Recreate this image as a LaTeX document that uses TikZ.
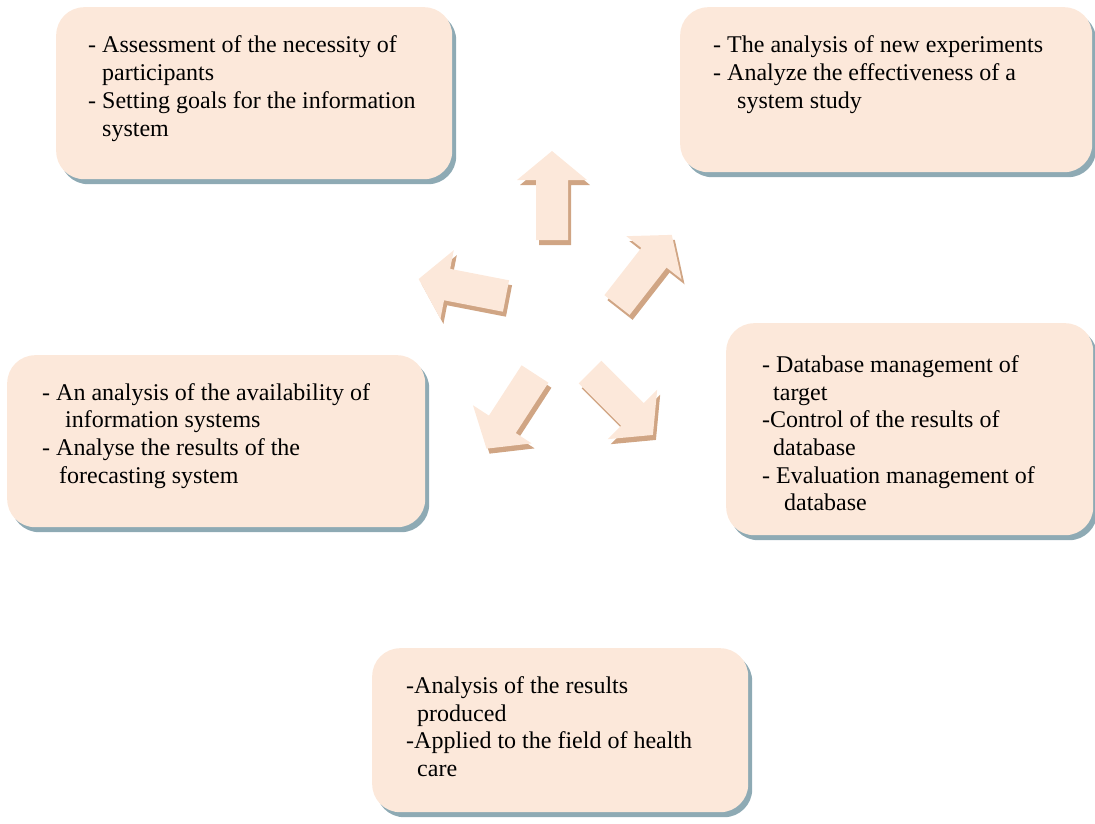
\documentclass[tikz,border=0pt]{standalone}
\usepackage{fontspec}
\setmainfont{Liberation Serif}
\usetikzlibrary{shadows}
\definecolor{peach}{HTML}{FCE8DA}
\definecolor{boxshadow}{HTML}{8EAAB4}
\definecolor{arrowshadow}{HTML}{D0A584}
\tikzset{
  box/.style={fill=peach, draw=none, rounded corners=28pt, anchor=north west, inner sep=0pt,
    drop shadow={shadow xshift=4pt, shadow yshift=-5pt, fill=boxshadow, opacity=1}},
  txt/.style={anchor=base west, inner sep=0pt, font=\fontsize{24}{28}\selectfont},
  arrowfill/.style={fill=peach},
  arrowshade/.style={fill=arrowshadow},
}
\newcommand{\blockarr}[3]{%
  \fill[arrowshade, shift={(#1+3,#2+5)}, rotate=#3]
    (0,-16) -- (60,-16) -- (60,-35) -- (89,0) -- (60,35) -- (60,16) -- (0,16) -- cycle;
  \fill[arrowfill, shift={(#1,#2)}, rotate=#3]
    (0,-16) -- (60,-16) -- (60,-35) -- (89,0) -- (60,35) -- (60,16) -- (0,16) -- cycle;
}
\begin{document}
\begin{tikzpicture}[x=1pt, y=-1pt]
\useasboundingbox (0,0) rectangle (1095,823);

% boxes
\node[box, minimum width=396pt, minimum height=172pt] (b1) at (56,7) {};
\node[box, minimum width=412pt, minimum height=165pt] (b2) at (680,7) {};
\node[box, minimum width=418pt, minimum height=172pt] (b3) at (7,355) {};
\node[box, minimum width=367pt, minimum height=212pt] (b4) at (726,323) {};
\node[box, minimum width=376pt, minimum height=164pt] (b5) at (372,648) {};

% texts box 1
\node[txt] (t11) at (88,52) {- Assessment of the necessity of};
\node[txt] (t12) at (102,80) {participants};
\node[txt] (t13) at (88,108) {- Setting goals for the information};
\node[txt] (t14) at (102,136) {system};

% texts box 2
\node[txt] (t21) at (713,52) {- The analysis of new experiments};
\node[txt] (t22) at (713,80) {- Analyze the effectiveness of a};
\node[txt] (t23) at (737,108) {system study};

% texts box 3
\node[txt] (t31) at (42,400) {- An analysis of the availability of};
\node[txt] (t32) at (65,427) {information systems};
\node[txt] (t33) at (42,455) {- Analyse the results of the};
\node[txt] (t34) at (59,483) {forecasting system};

% texts box 4
\node[txt] (t41) at (762,372) {- Database management of};
\node[txt] (t42) at (773,400) {target};
\node[txt] (t43) at (762,427) {-Control of the results of};
\node[txt] (t44) at (773,455) {database};
\node[txt] (t45) at (762,483) {- Evaluation management of};
\node[txt] (t46) at (784,510) {database};

% texts box 5
\node[txt] (t51) at (406,693) {-Analysis of the results};
\node[txt] (t52) at (417,721) {produced};
\node[txt] (t53) at (406,748) {-Applied to the field of health};
\node[txt] (t54) at (417,776) {care};

% block arrows
\blockarr{552}{240}{90}
\blockarr{617}{305}{52}
\blockarr{506}{296}{169}
\blockarr{535}{374}{-123}
\blockarr{590}{372}{-45}
\end{tikzpicture}
\end{document}
